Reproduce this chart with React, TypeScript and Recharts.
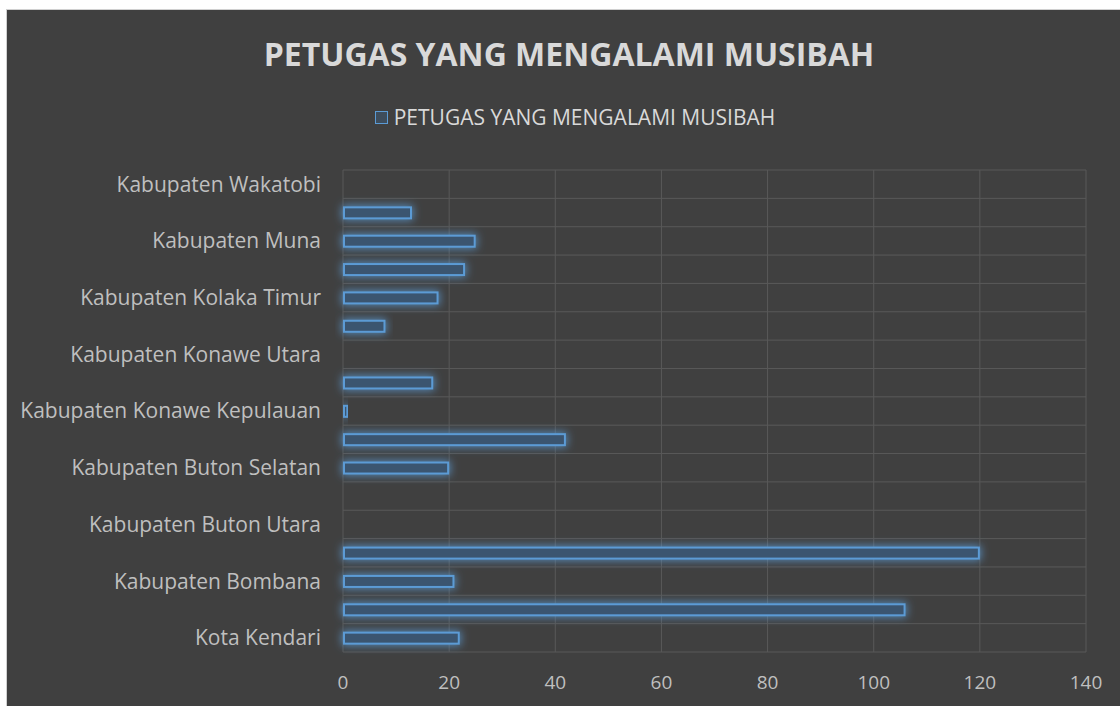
import { BarChart, Bar, XAxis, YAxis, CartesianGrid } from 'recharts';

const seriesName = 'PETUGAS YANG MENGALAMI MUSIBAH';

// bottom to top, as in the original sheet
const categories = [
  'Kota Kendari',
  'Kota Baubau',
  'Kabupaten Bombana',
  'Kabupaten Buton',
  'Kabupaten Buton Utara',
  'Kabupaten Buton Tengah',
  'Kabupaten Buton Selatan',
  'Kabupaten Konawe',
  'Kabupaten Konawe Kepulauan',
  'Kabupaten Konawe Selatan',
  'Kabupaten Konawe Utara',
  'Kabupaten Kolaka',
  'Kabupaten Kolaka Timur',
  'Kabupaten Kolaka Utara',
  'Kabupaten Muna',
  'Kabupaten Muna Barat',
  'Kabupaten Wakatobi',
];

const petugas = [22, 106, 21, 120, 0, 0, 20, 42, 1, 17, 0, 8, 18, 23, 25, 13, 0];

const xTicks = [0, 20, 40, 60, 80, 100, 120, 140];

const data = categories.map((name, i) => ({ name, value: petugas[i] }));

const FONT = '"Open Sans", sans-serif';

const GlowBar = (props: any) => {
  const { x, y, width, height } = props;
  if (!width || width <= 0) return <g />;
  return (
    <rect
      x={x + 1}
      y={y}
      width={Math.max(width - 2, 1)}
      height={height}
      fill="#3a5470"
      stroke="#5b9bd5"
      strokeWidth={2}
      filter="url(#barGlow)"
    />
  );
};

export default function App() {
  return (
    <div
      style={{
        position: 'absolute',
        left: 6,
        top: 9,
        width: 1114,
        height: 697,
        background: '#404040',
        borderLeft: '1px solid #d0d0d0',
        borderTop: '1px solid #d0d0d0',
        fontFamily: FONT,
        overflow: 'hidden',
      }}
    >
      <div
        style={{
          position: 'absolute',
          left: 0,
          width: 1124,
          top: 22,
          textAlign: 'center',
          color: '#d9d9d9',
          fontSize: 32,
          fontWeight: 700,
        }}
      >
        {seriesName}
      </div>
      <div
        style={{
          position: 'absolute',
          left: 0,
          width: 1136,
          top: 93,
          textAlign: 'center',
          color: '#d9d9d9',
          fontSize: 21,
          display: 'flex',
          justifyContent: 'center',
          alignItems: 'center',
        }}
      >
        <span
          style={{
            display: 'inline-block',
            width: 11,
            height: 11,
            border: '1.5px solid #5b9bd5',
            background: '#3e4d5c',
            marginRight: 6,
          }}
        />
        {seriesName}
      </div>
      <div style={{ position: 'absolute', left: 0, top: 0 }}>
        <BarChart
          width={1100}
          height={690}
          data={data}
          layout="vertical"
          margin={{ top: 160, right: 21, bottom: 8, left: 6 }}
          barSize={11}
        >
          <defs>
            <filter id="barGlow" x="-20%" y="-200%" width="140%" height="500%">
              <feMorphology in="SourceAlpha" operator="dilate" radius="1" result="fat" />
              <feGaussianBlur in="fat" stdDeviation="4" result="blur" />
              <feFlood floodColor="#5b9bd5" floodOpacity="0.8" />
              <feComposite in2="blur" operator="in" result="glow" />
              <feMerge>
                <feMergeNode in="glow" />
                <feMergeNode in="SourceGraphic" />
              </feMerge>
            </filter>
          </defs>
          <CartesianGrid
            stroke="#595959"
            strokeWidth={1}
            horizontalCoordinatesGenerator={({ offset }: any) =>
              categories
                .concat([''])
                .map((_, i) => offset.top + (i * offset.height) / categories.length)
            }
          />
          <XAxis
            type="number"
            domain={[0, 140]}
            ticks={xTicks}
            axisLine={false}
            tickLine={false}
            tickSize={0}
            tickMargin={24}
            height={40}
            tick={{ fill: '#bfbfbf', fontSize: 19, fontFamily: FONT }}
          />
          <YAxis
            type="category"
            dataKey="name"
            reversed
            interval={1}
            width={330}
            axisLine={false}
            tickLine={false}
            tickSize={0}
            tickMargin={22}
            tick={{ fill: '#bfbfbf', fontSize: 21, fontFamily: FONT }}
          />
          <Bar dataKey="value" name={seriesName} shape={GlowBar} isAnimationActive={false} />
        </BarChart>
      </div>
    </div>
  );
}
